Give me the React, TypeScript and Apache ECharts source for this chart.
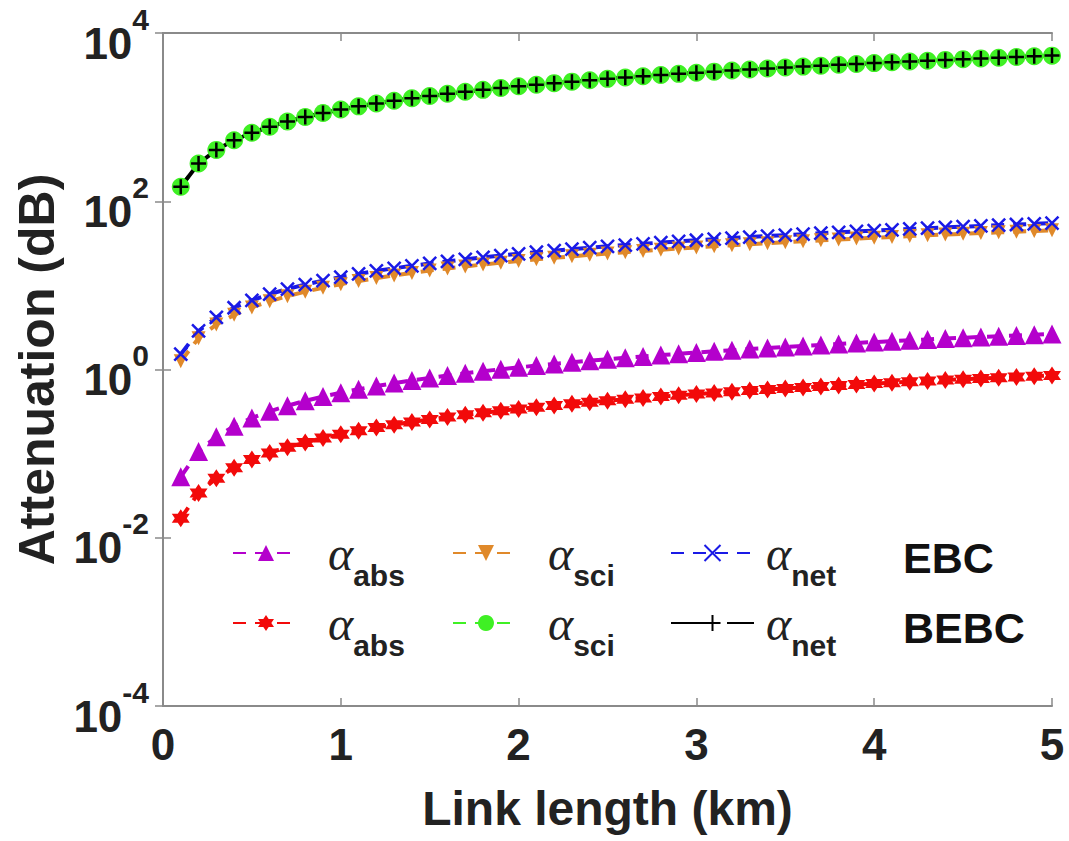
import React, { useEffect, useRef } from 'react';
import * as echarts from 'echarts';

const lengthKm = [
  0.1, 0.2, 0.3, 0.4, 0.5, 0.6, 0.7, 0.8, 0.9, 1.0,
  1.1, 1.2, 1.3, 1.4, 1.5, 1.6, 1.7, 1.8, 1.9, 2.0,
  2.1, 2.2, 2.3, 2.4, 2.5, 2.6, 2.7, 2.8, 2.9, 3.0,
  3.1, 3.2, 3.3, 3.4, 3.5, 3.6, 3.7, 3.8, 3.9, 4.0,
  4.1, 4.2, 4.3, 4.4, 4.5, 4.6, 4.7, 4.8, 4.9, 5.0,
];

const ebcAbs = [
  0.053, 0.106, 0.159, 0.212, 0.265, 0.318, 0.371, 0.424, 0.477, 0.53,
  0.583, 0.636, 0.689, 0.742, 0.795, 0.848, 0.901, 0.954, 1.007, 1.06,
  1.113, 1.166, 1.219, 1.272, 1.325, 1.378, 1.431, 1.484, 1.537, 1.59,
  1.643, 1.696, 1.749, 1.802, 1.855, 1.908, 1.961, 2.014, 2.067, 2.12,
  2.173, 2.226, 2.279, 2.332, 2.385, 2.438, 2.491, 2.544, 2.597, 2.65,
];

const ebcSci = [
  1.25, 2.36, 3.42, 4.46, 5.47, 6.46, 7.44, 8.42, 9.38, 10.33,
  11.27, 12.2, 13.13, 14.06, 14.98, 15.89, 16.8, 17.7, 18.6, 19.5,
  20.39, 21.28, 22.16, 23.05, 23.93, 24.8, 25.68, 26.54, 27.41, 28.28,
  29.14, 30.0, 30.86, 31.71, 32.58, 33.43, 34.28, 35.13, 35.96, 36.81,
  37.66, 38.5, 39.34, 40.18, 41.01, 41.85, 42.68, 43.51, 44.34, 45.16,
];

const ebcNet = [
  1.52, 2.87, 4.16, 5.42, 6.65, 7.86, 9.05, 10.23, 11.4, 12.56,
  13.7, 14.84, 15.97, 17.09, 18.21, 19.32, 20.42, 21.52, 22.62, 23.71,
  24.79, 25.87, 26.95, 28.03, 29.09, 30.16, 31.22, 32.27, 33.33, 34.38,
  35.43, 36.48, 37.53, 38.56, 39.61, 40.64, 41.68, 42.71, 43.73, 44.76,
  45.8, 46.82, 47.83, 48.85, 49.87, 50.89, 51.89, 52.91, 53.91, 54.91,
];

const bebcAbs = [
  0.017, 0.034, 0.051, 0.068, 0.085, 0.102, 0.119, 0.136, 0.153, 0.17,
  0.187, 0.204, 0.221, 0.238, 0.255, 0.272, 0.289, 0.306, 0.323, 0.34,
  0.357, 0.374, 0.391, 0.408, 0.425, 0.442, 0.459, 0.476, 0.493, 0.51,
  0.527, 0.544, 0.561, 0.578, 0.595, 0.612, 0.629, 0.646, 0.663, 0.68,
  0.697, 0.714, 0.731, 0.748, 0.765, 0.782, 0.799, 0.816, 0.833, 0.85,
];

const bebcSci = [
  149, 281, 408, 531, 652, 770, 887, 1003, 1118, 1231,
  1343, 1455, 1566, 1676, 1785, 1894, 2002, 2110, 2217, 2324,
  2430, 2536, 2642, 2748, 2852, 2956, 3060, 3163, 3268, 3370,
  3473, 3576, 3679, 3780, 3883, 3984, 4086, 4187, 4287, 4388,
  4489, 4589, 4689, 4789, 4889, 4989, 5087, 5187, 5285, 5383,
];

const bebcNet = [
  149, 281, 408, 531, 652, 770, 887, 1003, 1118, 1231,
  1343, 1455, 1566, 1676, 1785, 1894, 2002, 2110, 2217, 2324,
  2430, 2536, 2642, 2748, 2853, 2956, 3060, 3163, 3268, 3370,
  3473, 3577, 3679, 3781, 3884, 3985, 4087, 4188, 4288, 4389,
  4490, 4590, 4690, 4790, 4890, 4990, 5088, 5188, 5286, 5384,
];

const xTickLabels = ['0', '1', '2', '3', '4', '5'];
const groupLabels = ['EBC', 'BEBC'];

const HEXAGRAM =
  'path://M10,0L12.89,5L18.66,5L15.77,10L18.66,15L12.89,15L10,20L7.11,15L1.34,15L4.23,10L1.34,5L7.11,5Z';
const CROSS = 'path://M0,0L10,10M10,0L0,10';
const PLUS = 'path://M5,0L5,10M0,5L10,5';

const AXIS_GRAY = '#8a8a8a';
const TEXT = '#222222';

const seriesDefs = [
  { name: 'ebcAbs', sub: 'abs', data: ebcAbs, color: '#b400cc', symbol: 'triangle', size: 19, rotate: 0, dash: [13, 9], stroke: 0, iw: 66 },
  { name: 'ebcSci', sub: 'sci', data: ebcSci, color: '#e0892a', symbol: 'triangle', size: 14, rotate: 180, dash: [13, 9], stroke: 0, iw: 66 },
  { name: 'ebcNet', sub: 'net', data: ebcNet, color: '#1a1ae6', symbol: CROSS, size: 13, rotate: 0, dash: [13, 9], stroke: 2.5, iw: 83 },
  { name: 'bebcAbs', sub: 'abs', data: bebcAbs, color: '#f20a0a', symbol: HEXAGRAM, size: 18, rotate: 0, dash: [13, 9], stroke: 0, iw: 66 },
  { name: 'bebcSci', sub: 'sci', data: bebcSci, color: '#3ff024', symbol: 'circle', size: 18, rotate: 0, dash: [13, 9], stroke: 0, iw: 66 },
  { name: 'bebcNet', sub: 'net', data: bebcNet, color: '#000000', symbol: PLUS, size: 15, rotate: 0, dash: [46, 10], stroke: 2.5, iw: 83 },
];

const legendPos = [
  { left: 232, top: 529 },
  { left: 452, top: 529 },
  { left: 670, top: 529 },
  { left: 232, top: 599 },
  { left: 452, top: 599 },
  { left: 670, top: 599 },
];

export default function App() {
  const ref = useRef<HTMLDivElement>(null);

  useEffect(() => {
    if (!ref.current) return;
    const chart = echarts.init(ref.current, undefined, { renderer: 'svg' });

    const series = seriesDefs.map((s) => ({
      name: s.name,
      type: 'line',
      data: lengthKm.map((x, i) => [x, s.data[i]]),
      color: s.color,
      symbol: s.symbol,
      symbolSize: s.size,
      symbolRotate: s.rotate,
      showAllSymbol: true,
      lineStyle: { color: s.color, width: 4, type: s.dash },
      itemStyle: s.stroke
        ? { color: s.color, borderColor: s.color, borderWidth: s.stroke }
        : { color: s.color, borderWidth: 0 },
      emphasis: { disabled: true },
    }));

    const legends = seriesDefs.map((s, i) => ({
      data: [s.name],
      left: legendPos[i].left,
      top: legendPos[i].top,
      padding: 0,
      itemWidth: s.iw,
      itemHeight: 20,
      selectedMode: false,
      formatter: () => `{a|α}{s|${s.sub}}`,
      textStyle: {
        rich: {
          a: {
            fontFamily: 'Liberation Serif',
            fontStyle: 'italic',
            fontSize: 48,
            color: TEXT,
            height: 40,
            verticalAlign: 'middle',
            padding: [0, 0, 0, s.iw === 66 ? 24 : 7],
          },
          s: {
            fontFamily: 'Liberation Sans',
            fontWeight: 'bold',
            fontSize: 30,
            color: TEXT,
            height: 30,
            padding: [44, 0, 0, 0],
            verticalAlign: 'middle',
          },
        },
      },
    }));

    chart.setOption({
      animation: false,
      backgroundColor: '#ffffff',
      grid: { left: 163, right: 17, top: 33, bottom: 135, containLabel: false },
      legend: legends,
      xAxis: [
        {
          type: 'value',
          min: 0,
          max: 5,
          interval: 1,
          position: 'bottom',
          name: 'Link length (km)',
          nameLocation: 'middle',
          nameGap: 78,
          nameTextStyle: { fontFamily: 'Liberation Sans', fontWeight: 'bold', fontSize: 48, color: TEXT },
          axisLine: { show: true, lineStyle: { color: AXIS_GRAY, width: 2 } },
          axisTick: { show: true, inside: true, length: 8, lineStyle: { color: AXIS_GRAY, width: 1.5 } },
          axisLabel: {
            margin: 16,
            fontFamily: 'Liberation Sans',
            fontWeight: 'bold',
            fontSize: 44,
            color: TEXT,
            formatter: (v: number) => xTickLabels[Math.round(v)] ?? String(v),
          },
          splitLine: { show: false },
        },
        {
          type: 'value',
          min: 0,
          max: 5,
          interval: 1,
          position: 'top',
          axisLine: { show: true, lineStyle: { color: AXIS_GRAY, width: 2 } },
          axisTick: { show: true, inside: true, length: 8, lineStyle: { color: AXIS_GRAY, width: 1.5 } },
          axisLabel: { show: false },
          splitLine: { show: false },
        },
      ],
      yAxis: [
        {
          type: 'log',
          logBase: 10,
          min: 1e-4,
          max: 1e4,
          interval: 2,
          position: 'left',
          name: 'Attenuation (dB)',
          nameLocation: 'middle',
          nameGap: 100,
          nameRotate: 90,
          nameTextStyle: { fontFamily: 'Liberation Sans', fontWeight: 'bold', fontSize: 50, color: TEXT },
          axisLine: { show: true, lineStyle: { color: AXIS_GRAY, width: 2 } },
          axisTick: { show: true, inside: true, length: 8, lineStyle: { color: AXIS_GRAY, width: 1.5 } },
          axisLabel: {
            margin: 14,
            formatter: (v: number) => `{b|10}{e|${Math.round(Math.log10(v))}}`,
            rich: {
              b: {
                fontFamily: 'Liberation Sans',
                fontWeight: 'bold',
                fontSize: 44,
                color: TEXT,
                height: 36,
                verticalAlign: 'bottom',
              },
              e: {
                fontFamily: 'Liberation Sans',
                fontWeight: 'bold',
                fontSize: 30,
                color: TEXT,
                height: 28,
                padding: [0, 0, 28, 0],
                verticalAlign: 'top',
              },
            },
          },
          splitLine: { show: false },
          minorTick: { show: false },
        },
        {
          type: 'log',
          logBase: 10,
          min: 1e-4,
          max: 1e4,
          interval: 2,
          position: 'right',
          axisLine: { show: true, lineStyle: { color: AXIS_GRAY, width: 2 } },
          axisTick: { show: true, inside: true, length: 8, lineStyle: { color: AXIS_GRAY, width: 1.5 } },
          axisLabel: { show: false },
          splitLine: { show: false },
        },
      ],
      graphic: [
        {
          type: 'text',
          left: 903,
          top: 536,
          style: { text: groupLabels[0], fontFamily: 'Liberation Sans', fontWeight: 'bold', fontSize: 43, fill: '#111' },
        },
        {
          type: 'text',
          left: 903,
          top: 606,
          style: { text: groupLabels[1], fontFamily: 'Liberation Sans', fontWeight: 'bold', fontSize: 43, fill: '#111' },
        },
      ],
      series,
    });

    return () => chart.dispose();
  }, []);

  return (
    <div
      ref={ref}
      style={{ position: 'absolute', left: 0, top: 0, width: 1069, height: 841, background: '#fff' }}
    />
  );
}
